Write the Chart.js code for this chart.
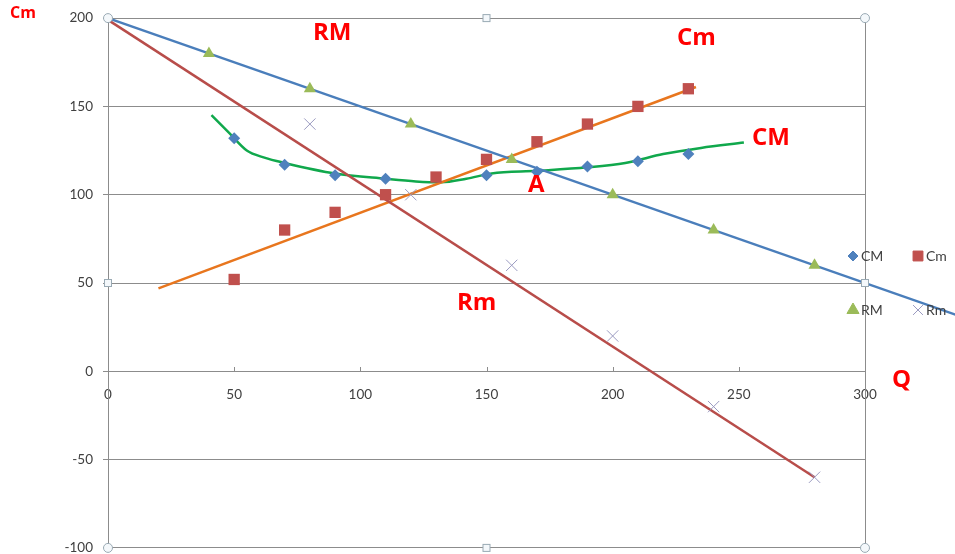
<!DOCTYPE html>
<html lang="en">
<head>
<meta charset="UTF-8">
<title>CM Cm RM Rm</title>
<script src="https://cdn.jsdelivr.net/npm/chart.js"></script>
<style>
  body { margin: 0; background: #fff; overflow: hidden; }
  #wrap { position: relative; width: 955px; height: 554px; overflow: hidden; }
  #c { display: block; }
  .note { position: absolute; color: #ff0000; font: bold 24px "Open Sans", sans-serif; line-height: 1; white-space: nowrap; }
  .leg { position: absolute; font: 14px Lato, sans-serif; color: #404040; line-height: 1; }
</style>
</head>
<body>
<div id="wrap">
  <!-- a bit taller than the window: chart.js keeps ~19px under the plot, which the picture does not have -->
  <canvas id="c" width="955" height="566"></canvas>

  <div class="note" style="left:10px; top:4px; font-size:16px;">Cm</div>
  <div class="note" style="left:313px; top:19px;">RM</div>
  <div class="note" style="left:677px; top:24px;">Cm</div>
  <div class="note" style="left:752px; top:124px;">CM</div>
  <div class="note" style="left:528px; top:171px;">A</div>
  <div class="note" style="left:457px; top:289px;">Rm</div>
  <div class="note" style="left:892px; top:366px;">Q</div>

  <div class="leg" style="left:861px; top:249px;">CM</div>
  <div class="leg" style="left:926px; top:249px;">Cm</div>
  <div class="leg" style="left:861px; top:303px;">RM</div>
  <div class="leg" style="left:926px; top:303px;">Rm</div>
</div>

<script>
  // scatter points
  const cmX = [50, 70, 90, 110, 150, 170, 190, 210, 230];
  const cmY = [132, 117, 111, 109, 111, 113, 116, 119, 123];

  const cmSmallX = [50, 70, 90, 110, 130, 150, 170, 190, 210, 230];
  const cmSmallY = [52, 80, 90, 100, 110, 120, 130, 140, 150, 160];

  const rmX = [40, 80, 120, 160, 200, 240, 280];
  const rmY = [180, 160, 140, 120, 100, 80, 60];

  const rmSmallX = [80, 120, 160, 200, 240, 280];
  const rmSmallY = [140, 100, 60, 20, -20, -60];

  // hand drawn lines
  const rmLineX = [0, 336];
  const rmLineY = [200, 32];
  const rmSmallLineX = [0, 280];
  const rmSmallLineY = [199, -60];
  const cmSmallLineX = [20, 233];
  const cmSmallLineY = [47, 161];
  const cmCurveX = [41, 48, 55, 62, 70, 90, 110, 122, 132, 142, 152, 170, 190, 205, 220, 235, 252];
  const cmCurveY = [145, 135, 125, 121, 118, 112, 109, 107.5, 107, 109, 112, 113.5, 115.5, 118, 123, 126.5, 129.5];

  const xTicks = [0, 50, 100, 150, 200, 250, 300];
  const yTicks = [-100, -50, 0, 50, 100, 150, 200];

  const pts = (xs, ys) => xs.map((x, i) => ({ x: x, y: ys[i] }));

  function line(xs, ys, color, curve) {
    return {
      type: "line", data: pts(xs, ys), borderColor: color, borderWidth: 2.5,
      pointRadius: 0, fill: false, clip: false, order: 2,
      tension: curve ? 0.4 : 0, cubicInterpolationMode: curve ? "monotone" : "default"
    };
  }

  function marks(xs, ys, style, color, r) {
    return {
      type: "scatter", data: pts(xs, ys), pointStyle: style, pointRadius: r,
      backgroundColor: color, borderColor: color, borderWidth: style === "crossRot" ? 1 : 0, order: 1
    };
  }

  const legendItems = [
    { style: "rectRot", color: "#4f81bd", r: 5, x: 853, y: 256 },
    { style: "rect", color: "#c0504d", r: 7, x: 918, y: 256 },
    { style: "triangle", color: "#9bbb59", r: 7, x: 853, y: 310 },
    { style: "crossRot", color: "#9a9ac0", r: 7, x: 918, y: 310 }
  ];

  // the selected plot frame with its handles, small x ticks, and the little legend
  const framePlugin = {
    id: "frame",
    beforeDatasetsDraw(chart) {
      const { ctx, chartArea: a, scales } = chart;
      const y0 = Math.round(scales.y.getPixelForValue(0));
      ctx.save();
      ctx.strokeStyle = "#8c8c8c";
      ctx.lineWidth = 1;
      ctx.beginPath();
      ctx.moveTo(Math.round(a.right) + 0.5, a.top);
      ctx.lineTo(Math.round(a.right) + 0.5, a.bottom);
      xTicks.forEach(v => {
        const px = Math.round(scales.x.getPixelForValue(v)) + 0.5;
        ctx.moveTo(px, y0 - 4);
        ctx.lineTo(px, y0);
      });
      ctx.stroke();
      ctx.restore();
    },
    afterDraw(chart) {
      const { ctx, chartArea: a } = chart;
      const mx = (a.left + a.right) / 2, my = (a.top + a.bottom) / 2;
      ctx.save();
      ctx.strokeStyle = "#9aaab4";
      ctx.fillStyle = "#f4f8fb";
      ctx.lineWidth = 1;
      [[a.left, a.top], [a.right, a.top], [a.left, a.bottom], [a.right, a.bottom]].forEach(p => {
        ctx.beginPath();
        ctx.arc(p[0], p[1], 4.5, 0, Math.PI * 2);
        ctx.fill(); ctx.stroke();
      });
      [[mx, a.top], [mx, a.bottom], [a.left, my], [a.right, my]].forEach(p => {
        ctx.fillRect(p[0] - 3.5, p[1] - 3.5, 7, 7);
        ctx.strokeRect(p[0] - 3.5, p[1] - 3.5, 7, 7);
      });
      legendItems.forEach(it => {
        ctx.fillStyle = it.color;
        ctx.strokeStyle = it.color;
        ctx.lineWidth = 1;
        Chart.helpers.drawPoint(ctx, { pointStyle: it.style, radius: it.r, rotation: 0, borderWidth: 1 }, it.x, it.y);
      });
      ctx.restore();
    }
  };

  new Chart(document.getElementById("c"), {
    data: {
      datasets: [
        marks(cmX, cmY, "rectRot", "#4f81bd", 6),
        marks(cmSmallX, cmSmallY, "rect", "#c0504d", 8),
        marks(rmX, rmY, "triangle", "#9bbb59", 7),
        marks(rmSmallX, rmSmallY, "crossRot", "#9a9ac0", 8),
        line(rmLineX, rmLineY, "#4a7ebb", false),
        line(rmSmallLineX, rmSmallLineY, "#b84d4a", false),
        line(cmSmallLineX, cmSmallLineY, "#e8761e", false),
        line(cmCurveX, cmCurveY, "#10a84c", true)
      ]
    },
    options: {
      responsive: false,
      animation: false,
      devicePixelRatio: 1,
      layout: { padding: { left: 0, right: 90, top: 17, bottom: 0 } },
      plugins: { legend: { display: false }, tooltip: { enabled: false } },
      scales: {
        x: {
          type: "linear", min: 0, max: 300,
          position: { y: 0 },
          afterFit: s => { s.height = 0; },
          afterBuildTicks: s => { s.ticks = xTicks.map(v => ({ value: v })); },
          grid: { display: false },
          border: { display: true, color: "#8c8c8c" },
          ticks: { padding: 7, color: "#404040", font: { family: "Lato", size: 13.5 }, maxRotation: 0 }
        },
        y: {
          type: "linear", min: -100, max: 200,
          afterFit: s => { s.width = 108; },
          afterBuildTicks: s => { s.ticks = yTicks.map(v => ({ value: v })); },
          grid: { color: "#8c8c8c", tickLength: 5 },
          border: { display: true, color: "#8c8c8c" },
          ticks: { padding: 10, color: "#404040", font: { family: "Lato", size: 13.5 } }
        }
      }
    },
    plugins: [framePlugin]
  });
</script>
</body>
</html>
